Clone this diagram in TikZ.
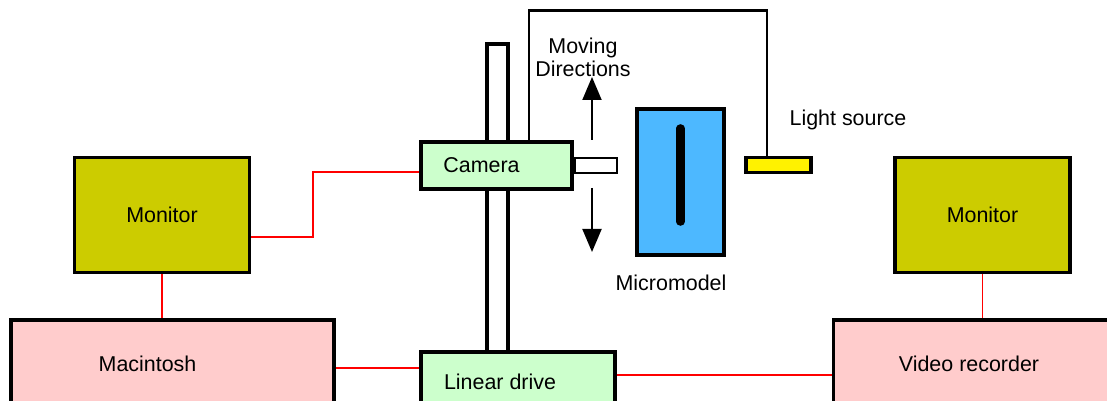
\documentclass[tikz,border=0pt]{standalone}
\usepackage{fontspec}
\setmainfont{Liberation Sans}
\usetikzlibrary{arrows.meta,positioning}
\definecolor{rigolive}{RGB}{204,204,0}
\definecolor{rigpink}{RGB}{255,204,204}
\definecolor{riggreen}{RGB}{204,255,204}
\definecolor{rigblue}{RGB}{77,184,255}
\definecolor{rigyellow}{RGB}{255,242,0}
\definecolor{rigred}{RGB}{255,0,0}

\begin{document}
\begin{tikzpicture}[x=0.02cm,y=-0.02cm,font=\fontsize{12.2}{14}\selectfont,>=Latex,
 box/.style={draw,line width=2pt,inner sep=0pt},
 cable/.style={draw=rigred,line width=.85pt},
 wire/.style={line width=1.7pt},
 arr/.style={->,line width=1.1pt,>={Triangle[width=.38cm,length=.46cm]}},
 slit/.style={line width=4.6pt,line cap=round}]
\useasboundingbox (0,0) rectangle (1107,401);
% rail behind the camera
\node[box,fill=white,minimum width=.42cm,minimum height=6.16cm] (rail) at (497.5,198) {};
\node[box,fill=rigolive,minimum width=3.5cm,minimum height=2.3cm] (mon1) at (162,215) {Monitor};
\node[box,fill=rigolive,minimum width=3.5cm,minimum height=2.3cm] (mon2) at (982.5,215) {Monitor};
\node[box,fill=rigpink,minimum width=6.46cm,minimum height=1.76cm] (mac) at (172.5,364)
 {Macintosh\hspace{1cm}\null};
\node[box,fill=rigpink,minimum width=5.62cm,minimum height=1.76cm] (vcr) at (974,364)
 {Video recorder\hspace{.2cm}\null};
\node[box,fill=riggreen,minimum width=3.02cm,minimum height=.94cm] (cam) at (496.5,165.5)
 {\raisebox{-2pt}{Camera}\hspace{.6cm}\null};
\node[box,fill=riggreen,minimum width=3.88cm,minimum height=1.2cm] (drive) at (518,382)
 {Linear drive\hspace{.72cm}\null};
\node[box,line width=1.3pt,fill=white,minimum width=.84cm,minimum height=.3cm,anchor=west]
 (lens) at (cam.east) {};
\node[box,fill=rigblue,minimum width=1.74cm,minimum height=2.92cm] (model) at (680.5,182) {};
\node[box,fill=rigyellow,minimum width=1.3cm,minimum height=.3cm] (lamp) at (778.5,165) {};
\draw[slit] ([yshift=-.42cm]model.north) -- ([yshift=.7cm]model.south);

\node (lamptxt) at (848,120) {Light source};
\node (modeltxt) at (671,283) {Micromodel};
\node[align=center] (movetxt) at (583,57) {Moving\\[-1pt]Directions};

% lamp holder
\coordinate (wireL) at (529,11);
\coordinate (wireR) at (767,11);
\draw[wire] (cam.north -| wireL) -- (wireL) -- (wireR) -- (wireR |- lamp.north);

% moving directions
\coordinate (upS) at (592,140);
\coordinate (upT) at (592,77);
\coordinate (dnS) at (592,188);
\coordinate (dnT) at (592,252);
\draw[arr] (upS) -- (upT);
\draw[arr] (dnS) -- (dnT);

% cables
\draw[cable] ([yshift=-.44cm]mon1.east) -- ++(62,0) |- ([yshift=-.13cm]cam.west);
\draw[cable] (mon1.south) -- (mon1.south |- mac.north);
\draw[cable] (mon2.south) -- (mon2.south |- vcr.north);
\draw[cable] ([yshift=-.08cm]mac.east) -- ([yshift=-.08cm]mac.east -| drive.west);
\draw[cable] ([yshift=.14cm]drive.east) -- ([yshift=.14cm]drive.east -| vcr.west);
\end{tikzpicture}
\end{document}
